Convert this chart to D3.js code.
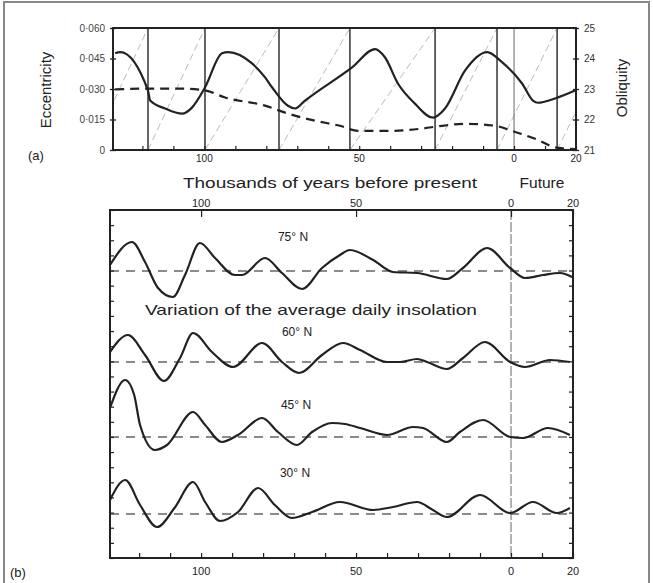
<!DOCTYPE html>
<html><head><meta charset="utf-8">
<script src="https://cdn.jsdelivr.net/npm/d3@7"></script>
<style>
html,body{margin:0;padding:0;background:#fff;}
svg{display:block;font-family:"Liberation Sans",Arial,sans-serif;}
</style></head>
<body>
<svg id="chart" width="653" height="583"></svg>
<script>
// ---------- DATA (years: negative = thousands of years before present) ----------
const oblYears = [-128.8,-127.2,-118.2,-117.5,-112.7,-107.2,-104.0,-99.8,-94.3,-92.3,-84.6,-80.4,-78.1,-73.0,-70.7,-67.5,-52.3,-44.9,-41.7,-37.5,-32.0,-26.2,-22.3,-15.8,-8.7,-3.9,2.6,6.1,7.7,13.2,19.7];
const obliquity = [24.17,24.21,22.95,22.62,22.36,22.19,22.39,23.05,24.17,24.21,23.84,23.38,23.05,22.45,22.36,22.62,23.71,24.31,24.04,23.18,22.52,22.06,22.36,23.61,24.21,23.88,23.18,22.62,22.55,22.69,22.95];
const eccYears = [-128.8,-118.2,-107.2,-99.8,-93.3,-80.4,-73.0,-64.3,-56.2,-50.4,-40.7,-30.4,-23.2,-15.8,-6.1,-0.6,6.8,14.2,19.7];
const eccentricity = [0.0298,0.0302,0.0302,0.0293,0.0258,0.0218,0.0179,0.0144,0.0119,0.0094,0.0094,0.0104,0.0119,0.0129,0.0119,0.0094,0.0055,0.0010,0.0005];
const precessionYears = [-136.6,-118.2,-99.8,-75.9,-53.0,-25.5,-5.5,13.9,33.3];
const eccTicks = [0,0.015,0.030,0.045,0.060];
const eccTickLabels = ["0","0·015","0·030","0·045","0·060"];
const oblTicks = [21,22,23,24,25];
const yearTicks = [-100,-50,0,20];
const yearTickLabels = ["100","50","0","20"];

const latitudes = ["75° N","60° N","45° N","30° N"];
const ins75Years = [-129.4,-122.3,-118.1,-113.9,-109.1,-105.2,-100.4,-95.5,-89.1,-86.8,-79.4,-73.9,-67.4,-61.0,-55.2,-52.0,-44.5,-38.1,-30.3,-20.7,-15.5,-7.7,-0.3,4.5,10.3,15.8,19.7];
const ins75 = [6,29,9,-17,-26,-4,28,13,-4,-4,13,-2,-18,3,16,21,11,-1,-2,-8,3,23,3,-7,-4,-2,-6];
const ins60Years = [-129.4,-123.6,-118.1,-112.0,-106.8,-102.6,-96.5,-89.7,-80.3,-73.9,-68.4,-61.0,-54.2,-48.7,-40.0,-35.8,-30.3,-27.1,-20.7,-15.5,-8.4,-0.3,4.5,12.6,19.0];
const ins60 = [10,27,7,-19,4,29,10,-5,19,0,-11,7,19,12,0,0,3,0,-7,4,20,0,-5,2,0];
const ins45Years = [-129.4,-124.5,-121.6,-119.7,-114.9,-111.0,-102.6,-98.7,-93.3,-88.1,-80.3,-75.2,-69.1,-64.2,-57.8,-53.6,-48.7,-40.0,-31.6,-28.4,-20.7,-16.5,-9.0,-0.3,3.9,11.9,19.0];
const ins45 = [29,57,42,12,-13,-8,25,12,-5,2,19,5,-8,5,14,13,9,2,10,9,-5,5,17,0,-1,9,2];
const ins30Years = [-129.4,-124.5,-119.7,-114.2,-108.6,-102.6,-98.7,-93.9,-88.1,-81.6,-76.2,-70.7,-64.2,-55.2,-44.5,-38.1,-30.3,-25.2,-20.7,-10.0,-0.3,7.1,14.8,19.0];
const ins30 = [14,34,9,-13,6,32,12,-7,2,26,9,-4,2,12,4,7,12,4,-3,19,1,12,1,6];
const insSeries = [
  {label: latitudes[0], years: ins75Years, values: ins75},
  {label: latitudes[1], years: ins60Years, values: ins60},
  {label: latitudes[2], years: ins45Years, values: ins45},
  {label: latitudes[3], years: ins30Years, values: ins30}
];

// ---------- LAYOUT ----------
const svg = d3.select("#chart");
const ink = "#222";

// page frame
svg.append("path").attr("d","M4,590 L4,2 L649,2 L649,590")
  .attr("fill","none").attr("stroke","#888").attr("stroke-width",2);

// ===== Panel (a) =====
const A = {left:113, right:576, top:28, bottom:150};
const xa = d3.scaleLinear().domain([-129.5,20]).range([A.left,A.right]);
const yEcc = d3.scaleLinear().domain([0,0.06]).range([A.bottom,A.top]);
const yObl = d3.scaleLinear().domain([21,25]).range([A.bottom,A.top]);

svg.append("clipPath").attr("id","clipA").append("rect")
  .attr("x",A.left).attr("y",A.top).attr("width",A.right-A.left).attr("height",A.bottom-A.top);
const ga = svg.append("g").attr("clip-path","url(#clipA)");

// precession sawtooth diagonals
for (let i=0;i<precessionYears.length-1;i++){
  ga.append("line")
    .attr("x1",xa(precessionYears[i])).attr("y1",A.bottom)
    .attr("x2",xa(precessionYears[i+1])).attr("y2",A.top)
    .attr("stroke","#bbb").attr("stroke-width",1).attr("stroke-dasharray","7,4");
}
// vertical precession lines
precessionYears.forEach(y=>{
  ga.append("line").attr("x1",xa(y)).attr("x2",xa(y)).attr("y1",A.top).attr("y2",A.bottom)
    .attr("stroke","#333").attr("stroke-width",1.5);
});
// present line
ga.append("line").attr("x1",xa(0)).attr("x2",xa(0)).attr("y1",A.top).attr("y2",A.bottom)
  .attr("stroke","#666").attr("stroke-width",1);

// eccentricity dashed
ga.append("path").datum(eccYears.map((y,i)=>[y,eccentricity[i]]))
  .attr("d",d3.line().x(d=>xa(d[0])).y(d=>yEcc(d[1])).curve(d3.curveMonotoneX))
  .attr("fill","none").attr("stroke",ink).attr("stroke-width",2.2).attr("stroke-dasharray","9,6");
// obliquity solid
ga.append("path").datum(oblYears.map((y,i)=>[y,obliquity[i]]))
  .attr("d",d3.line().x(d=>xa(d[0])).y(d=>yObl(d[1])).curve(d3.curveMonotoneX))
  .attr("fill","none").attr("stroke",ink).attr("stroke-width",2.2);

// frame
svg.append("rect").attr("x",A.left).attr("y",A.top).attr("width",A.right-A.left).attr("height",A.bottom-A.top)
  .attr("fill","none").attr("stroke",ink).attr("stroke-width",2);

// left axis
const axL = d3.axisLeft(yEcc).tickValues(eccTicks).tickFormat((d,i)=>eccTickLabels[i]).tickSize(6).tickPadding(5);
const gL = svg.append("g").attr("transform",`translate(${A.left+3},0)`).call(axL);
gL.select(".domain").remove();
gL.selectAll("line").attr("stroke",ink).attr("stroke-width",1.3);
gL.selectAll("text").attr("font-size",10).attr("fill","#444").attr("font-family","Liberation Sans, Arial");
// right axis
const axR = d3.axisRight(yObl).tickValues(oblTicks).tickFormat(d3.format("d")).tickSize(6).tickPadding(5);
const gR = svg.append("g").attr("transform",`translate(${A.right-3},0)`).call(axR);
gR.select(".domain").remove();
gR.selectAll("line").attr("stroke",ink).attr("stroke-width",1.3);
gR.selectAll("text").attr("font-size",10).attr("fill","#333").attr("font-family","Liberation Sans, Arial");
// bottom axis of (a)
const axAB = d3.axisBottom(xa).tickValues(d3.range(-120,21,10)).tickSize(-4).tickFormat("");
const gAB = svg.append("g").attr("transform",`translate(0,${A.bottom})`).call(axAB);
gAB.select(".domain").remove();
gAB.selectAll("line").attr("stroke",ink).attr("stroke-width",1.2);
yearTicks.forEach((t,i)=>{
  svg.append("text").attr("x",xa(t)).attr("y",A.bottom+12).attr("text-anchor","middle")
    .attr("font-size",10).attr("fill",ink).text(yearTickLabels[i]);
});

// axis titles
svg.append("text").attr("transform","translate(51,90) rotate(-90)").attr("text-anchor","middle")
  .attr("font-size",15).attr("fill",ink).text("Eccentricity");
svg.append("text").attr("transform","translate(627,88) rotate(-90)").attr("text-anchor","middle")
  .attr("font-size",15).attr("fill",ink).text("Obliquity");
svg.append("text").attr("x",28).attr("y",160).attr("font-size",13).attr("fill",ink).text("(a)");
svg.append("text").attr("x",183).attr("y",188).attr("font-size",15.5).attr("fill",ink)
  .attr("textLength",294).attr("lengthAdjust","spacingAndGlyphs").text("Thousands of years before present");
svg.append("text").attr("x",542).attr("y",188).attr("text-anchor","middle").attr("font-size",15.5).attr("fill",ink).text("Future");

// ===== Panel (b) =====
const B = {left:110, right:573, top:210, bottom:558};
const xb = d3.scaleLinear().domain([-129.4,20]).range([B.left,B.right]);
const yIns = d3.scaleLinear().domain([-30,30]).range([30,-30]);
const baselines = [271,362,437,514];
const labelPos = [[293,241],[297,336],[296,409],[295,477]];

svg.append("clipPath").attr("id","clipB").append("rect")
  .attr("x",B.left).attr("y",B.top).attr("width",B.right-B.left).attr("height",B.bottom-B.top);
const gb = svg.append("g").attr("clip-path","url(#clipB)");

// present line
gb.append("line").attr("x1",xb(0)).attr("x2",xb(0)).attr("y1",B.top).attr("y2",B.bottom)
  .attr("stroke","#666").attr("stroke-width",1).attr("stroke-dasharray","10,2");

insSeries.forEach((s,k)=>{
  const g = gb.append("g").attr("transform",`translate(0,${baselines[k]})`);
  g.append("line").attr("x1",B.left).attr("x2",B.right).attr("y1",yIns(0)).attr("y2",yIns(0))
    .attr("stroke","#666").attr("stroke-width",1.6).attr("stroke-dasharray","9,7");
  g.append("path").datum(s.years.map((y,i)=>[y,s.values[i]]))
    .attr("d",d3.line().x(d=>xb(d[0])).y(d=>yIns(d[1])).curve(d3.curveMonotoneX))
    .attr("fill","none").attr("stroke",ink).attr("stroke-width",2.2);
  svg.append("text").attr("x",labelPos[k][0]).attr("y",labelPos[k][1]).attr("text-anchor","middle")
    .attr("font-size",12).attr("fill",ink).text(s.label);
});

svg.append("text").attr("x",145).attr("y",315).attr("font-size",15).attr("fill",ink)
  .attr("textLength",332).attr("lengthAdjust","spacingAndGlyphs").text("Variation of the average daily insolation");

svg.append("rect").attr("x",B.left).attr("y",B.top).attr("width",B.right-B.left).attr("height",B.bottom-B.top)
  .attr("fill","none").attr("stroke",ink).attr("stroke-width",2);

// side ticks (b)
const yb = d3.scaleLinear().domain([0,23]).range([B.bottom,B.top]);
const gBL = svg.append("g").attr("transform",`translate(${B.left},0)`).call(d3.axisRight(yb).ticks(23).tickSize(4).tickFormat(""));
const gBR = svg.append("g").attr("transform",`translate(${B.right},0)`).call(d3.axisLeft(yb).ticks(23).tickSize(4).tickFormat(""));
[gBL,gBR].forEach(g=>{g.select(".domain").remove(); g.selectAll("line").attr("stroke",ink).attr("stroke-width",1.2);});
// bottom ticks (b)
const gBB = svg.append("g").attr("transform",`translate(0,${B.bottom})`)
  .call(d3.axisTop(xb).tickValues(d3.range(-120,21,10)).tickSize(5).tickFormat(""));
gBB.select(".domain").remove(); gBB.selectAll("line").attr("stroke",ink).attr("stroke-width",1.2);
// top ticks (b)
const gBT = svg.append("g").attr("transform",`translate(0,${B.top})`)
  .call(d3.axisBottom(xb).tickValues(yearTicks).tickSize(7).tickFormat(""));
gBT.select(".domain").remove(); gBT.selectAll("line").attr("stroke",ink).attr("stroke-width",1.2);

yearTicks.forEach((t,i)=>{
  svg.append("text").attr("x",xb(t)).attr("y",B.top-3).attr("text-anchor","middle")
    .attr("font-size",11).attr("fill",ink).text(yearTickLabels[i]);
  svg.append("text").attr("x",xb(t)).attr("y",B.bottom+17).attr("text-anchor","middle")
    .attr("font-size",11).attr("fill",ink).text(yearTickLabels[i]);
});
svg.append("text").attr("x",10).attr("y",577).attr("font-size",13).attr("fill",ink).text("(b)");
</script>
</body></html>
